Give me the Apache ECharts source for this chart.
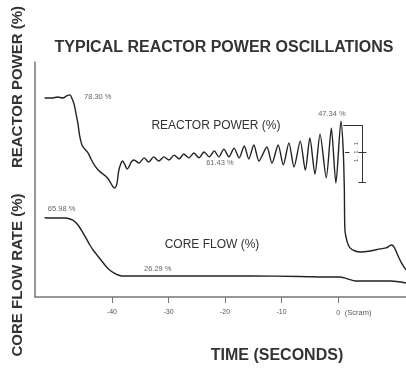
<!DOCTYPE html>
<html>
<head>
<meta charset="utf-8">
<script src="https://cdn.jsdelivr.net/npm/echarts@6/dist/echarts.min.js"></script>
<style>html,body{margin:0;padding:0;background:#fff;}#c{width:406px;height:368px;}</style>
</head>
<body>
<div id="c"></div>
<script>
// ---- data (time in seconds relative to scram, values in %) ----
const powerTrace = [
  [-51.9,78.3],[-50.6,78.3],[-49.6,78.6],[-48.7,78.3],[-48.0,78.9],[-47.4,79.2],[-47.1,78.3],
  [-46.7,76.6],[-46.4,74.3],[-46.0,70.9],[-45.7,67.5],[-45.3,64.9],[-44.8,63.7],[-44.2,62.6],
  [-43.7,60.9],[-43.0,58.9],[-42.3,57.5],[-41.6,56.6],[-40.9,55.7],[-40.4,54.6],[-39.8,52.9],
  [-39.5,52.6],[-39.1,54.0],[-38.8,57.5],[-38.4,59.7],[-38.1,60.3],[-37.7,59.2],[-37.3,58.0],
  [-37.0,58.6],[-36.6,60.0],
  [-36.1,60.6],[-35.2,59.7],[-34.3,61.2],[-33.5,60.0],[-32.6,61.5],[-31.7,60.3],
  [-30.8,61.5],[-29.9,60.6],[-29.0,62.0],[-28.1,60.9],[-27.3,62.3],[-26.4,61.2],
  [-25.5,62.6],[-24.6,61.2],[-23.7,62.9],[-22.8,61.5],[-21.9,63.2],[-21.1,61.5],
  [-20.2,63.7],[-19.3,61.5],[-18.4,64.0],[-17.5,61.2],[-16.6,64.6],[-15.8,60.9],
  [-14.9,64.9],[-14.0,60.3],[-12.6,64.3],[-11.7,59.7],[-10.6,64.9],[-9.7,59.2],
  [-8.7,65.5],[-7.8,58.6],[-6.7,66.0],[-5.8,57.7],[-5.0,66.9],[-4.1,56.6],
  [-3.2,68.0],[-2.1,55.5],[-1.2,69.7],[-0.4,54.0],[0.5,71.7],
  [0.9,63.4],[1.1,52.0],[1.2,40.6],[1.6,37.2],[2.1,35.5],[3.0,34.6],[3.9,34.3],
  [5.7,34.6],[7.4,35.2],[8.5,35.5],[9.4,36.3],[9.9,35.7],[10.6,33.2],[11.3,30.9],[12.0,29.2]
];
const flowTrace = [
  [-51.9,66.0],[-50.1,65.8],[-48.3,65.8],[-47.4,65.1],[-46.7,63.7],[-46.0,61.0],[-45.3,56.9],
  [-44.6,52.2],[-43.9,47.4],[-43.2,43.3],[-42.5,39.9],[-41.8,36.5],[-41.1,33.1],[-40.4,30.4],
  [-39.6,28.3],[-38.9,27.0],[-38.2,26.3],[-35.0,26.3],[-29.7,26.3],[-24.4,26.3],[-15.6,26.3],
  [-6.7,26.0],[-1.4,25.6],[0.4,25.6],[1.8,24.2],[3.0,22.9],[5.7,22.9],[9.2,22.9],[11.0,22.2],[12.0,21.5]
];
const tickValues = [-40, -30, -20, -10, 0];
const powerNotes = [
  ['78.30 %', -42.5, 78.6],
  ['61.43 %', -20.9, 59.7],
  ['47.34 %', -1.1, 73.7],
  ['REACTOR POWER (%)', -21.6, 70.3]
];
const flowNotes = [
  ['65.98 %', -48.9, 71.9],
  ['26.29 %', -31.9, 31.1],
  ['CORE FLOW (%)', -22.3, 47.4]
];
// oscillation amplitude scale bar (time, power %)
const scaleBar = [
  [[0.9,70.6],[4.2,70.6]],
  [[4.2,70.6],[4.2,54.0]],
  [[3.6,62.9],[5.0,62.9]],
  [[1.2,62.9],[2.0,62.9]],
  [[3.6,54.3],[4.9,54.3]]
];

const chart = echarts.init(document.getElementById('c'), null, {renderer: 'canvas'});
const FONT = '"Liberation Sans", Arial, sans-serif';
function notes(list) {
  return list.map(n => ({
    coord: [n[1], n[2]],
    symbol: 'circle', symbolSize: 0,
    label: {
      show: true, position: 'inside', formatter: n[0],
      fontFamily: FONT,
      fontSize: n[0].length > 8 ? 12 : 7.5,
      color: n[0].length > 8 ? '#333' : '#666',
      fontWeight: n[0].length > 8 ? 500 : 'normal'
    }
  }));
}
chart.setOption({
  backgroundColor: '#ffffff',
  animation: false,
  grid: {left: 35, right: 0, top: 62, bottom: 71},
  xAxis: {
    type: 'value', min: -53.6, max: 12.0,
    splitLine: {show: false},
    axisLine: {show: true, onZero: false, lineStyle: {color: '#777', width: 1.5}},
    axisTick: {show: true, customValues: tickValues, length: 6, lineStyle: {color: '#777', width: 1}},
    axisLabel: {
      show: true, customValues: tickValues, margin: 12,
      fontFamily: FONT, fontSize: 7, color: '#555',
      formatter: v => v === 0 ? '{p|}{a|0}{b|(Scram)}' : String(v),
      rich: {
        p: {width: 32},
        a: {fontSize: 7, color: '#555', fontFamily: FONT, width: 8, align: 'center'},
        b: {fontSize: 7.5, color: '#555', fontFamily: FONT, width: 32, align: 'left'}
      }
    }
  },
  yAxis: [
    {type: 'value', min: 21.46, max: 88.6, show: true,
     axisLine: {show: true, onZero: false, lineStyle: {color: '#777', width: 1.5}},
     axisTick: {show: false}, axisLabel: {show: false}, splitLine: {show: false}},
    {type: 'value', min: 12, max: 172, show: false, splitLine: {show: false}}
  ],
  series: [
    {
      name: 'Reactor power', type: 'line', yAxisIndex: 0, data: powerTrace,
      showSymbol: false, smooth: 0.25,
      lineStyle: {color: '#222', width: 1.4},
      markPoint: {silent: true, data: notes(powerNotes)},
      markLine: {
        silent: true, symbol: 'none', label: {show: false},
        lineStyle: {color: '#333', width: 1, type: 'solid'},
        data: scaleBar.map(s => [{coord: s[0]}, {coord: s[1]}])
      }
    },
    {
      name: 'Core flow', type: 'line', yAxisIndex: 1, data: flowTrace,
      showSymbol: false, smooth: 0.2,
      lineStyle: {color: '#222', width: 1.4},
      markPoint: {silent: true, data: notes(flowNotes)}
    }
  ],
  graphic: [
    {type: 'text', x: 224, y: 48, style: {text: 'TYPICAL REACTOR POWER OSCILLATIONS', font: 'bold 16px ' + FONT, fill: '#333', textAlign: 'center', textVerticalAlign: 'middle'}},
    {type: 'text', x: 277, y: 356, style: {text: 'TIME (SECONDS)', font: 'bold 16px ' + FONT, fill: '#333', textAlign: 'center', textVerticalAlign: 'middle'}},
    {type: 'text', x: 18, y: 87, rotation: Math.PI / 2, style: {text: 'REACTOR POWER (%)', font: 'bold 15px ' + FONT, fill: '#333', textAlign: 'center', textVerticalAlign: 'middle'}},
    {type: 'text', x: 18, y: 275, rotation: Math.PI / 2, style: {text: 'CORE FLOW RATE (%)', font: 'bold 15px ' + FONT, fill: '#333', textAlign: 'center', textVerticalAlign: 'middle'}},
    {type: 'text', x: 356, y: 152, rotation: Math.PI / 2, style: {text: '1 . 1 . 1', font: '6px ' + FONT, fill: '#555', textAlign: 'center', textVerticalAlign: 'middle'}}
  ]
});
</script>
</body>
</html>
